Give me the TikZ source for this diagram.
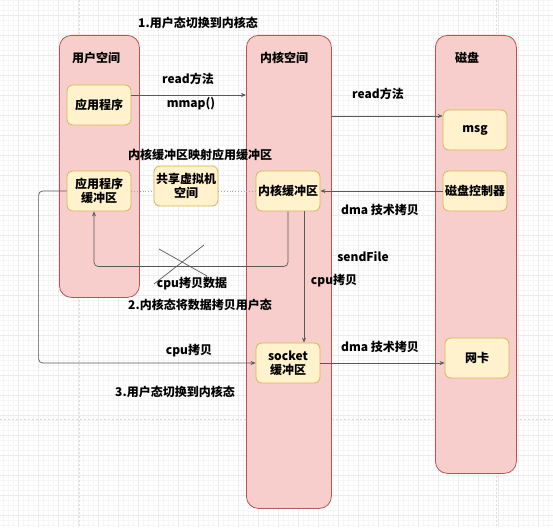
\documentclass[tikz,border=0pt]{standalone}
\usepackage{fontspec}
\setmainfont{Noto Sans CJK SC}
\usetikzlibrary{arrows.meta}
\definecolor{colfill}{HTML}{F8CECC}
\definecolor{colstroke}{HTML}{B85450}
\definecolor{boxfill}{HTML}{FFF2CC}
\definecolor{boxstroke}{HTML}{D6B656}
\definecolor{linec}{HTML}{595959}
\definecolor{minorg}{HTML}{F6F6F6}
\definecolor{majorg}{HTML}{EBEBEB}
\definecolor{pageg}{HTML}{DDDDDD}
\begin{document}
\begin{tikzpicture}[x=1pt,y=-1pt,
  col/.style={draw=colstroke, fill=colfill, rounded corners=12pt, line width=0.8pt, anchor=north west, inner sep=0pt},
  box/.style={draw=boxstroke, fill=boxfill, rounded corners=6pt, minimum width=64pt, minimum height=40pt, align=center, font=\bfseries\fontsize{12}{14}\selectfont, inner sep=1pt, line width=0.8pt},
  lbl/.style={font=\bfseries\fontsize{12}{14}\selectfont, inner sep=0pt},
  conn/.style={draw=linec, line width=0.7pt, -{Stealth[length=5pt,width=4pt]}},
  plain/.style={draw=linec, line width=0.7pt},
  dotline/.style={draw=gray!70, line width=0.8pt, dotted},
  minorgrid/.style={draw=minorg, line width=0.4pt},
  majorgrid/.style={draw=majorg, line width=0.5pt},
  pageline/.style={draw=pageg, line width=0.8pt, dash pattern=on 2pt off 2pt}
]
\useasboundingbox (0,0) rectangle (553,527);
\fill[white] (0,0) rectangle (553,527);
% grid
\foreach \x in {3,8,...,553} \draw[minorgrid] (\x,0) -- (\x,527);
\foreach \y in {0,5,...,527} \draw[minorgrid] (0,\y) -- (553,\y);
\foreach \x in {18,38,...,553} \draw[majorgrid] (\x,0) -- (\x,527);
\foreach \y in {15,35,...,527} \draw[majorgrid] (0,\y) -- (553,\y);
\draw[pageline] (79,0) -- (79,527);
\draw[pageline] (496,0) -- (496,527);
\draw[pageline] (0,419) -- (553,419);

% columns
\node[col, minimum width=80pt, minimum height=262pt] (user) at (59,35) {};
\node[col, minimum width=85pt, minimum height=473pt] (kernel) at (246,35) {};
\node[col, minimum width=81pt, minimum height=438pt] (disk) at (435,35) {};

% titles
\node[lbl] (t1) at (198,23) {1.用户态切换到内核态};
\node[lbl] (tu) at (96,58) {用户空间};
\node[lbl] (tk) at (284,58) {内核空间};
\node[lbl] (td) at (467,58) {磁盘};

% boxes
\node[box] (app) at (99,105) {应用程序};
\node[box] (ubuf) at (99,191) {应用程序\\缓冲区};
\node[box] (shared) at (186,186) {共享虚拟机\\空间};
\node[box] (kbuf) at (288,191) {内核缓冲区};
\node[box] (msg) at (475,130) {msg};
\node[box] (ctrl) at (475,191) {磁盘控制器};
\node[box] (sock) at (288,363) {socket\\缓冲区};
\node[box] (nic) at (477,358) {网卡};

% connectors
\coordinate (a1) at ([yshift=10pt]app.east);
\draw[conn] (a1) -- (a1 -| kernel.west);
\coordinate (m1) at ([yshift=14pt]msg.west);
\draw[conn] (m1 -| kernel.east) -- (m1);
\draw[conn] (ctrl) -- (kbuf);
\draw[dotline] (ubuf.east) -- (shared.west |- ubuf.east);
\draw[dotline] (shared.east |- ubuf.east) -- (kbuf.west);
\coordinate (u2) at ([xshift=-5pt]ubuf.south);
\draw[conn, rounded corners=4pt] (kbuf.south) -- ++(0,55) -| (u2);
\draw[conn] ([xshift=16pt]kbuf.south) -- ([xshift=16pt]sock.north);
\draw[conn, rounded corners=4pt] (ubuf.west) -- ++(-28,0) |- (sock.west);
\draw[conn] (sock.east) -- (sock.east -| nic.west);

% cross
\coordinate (c1) at (159,249);
\coordinate (c2) at (207,276);
\coordinate (c3) at (204,245);
\coordinate (c4) at (154,284);
\draw[plain] (c1) -- (c2);
\draw[plain] (c3) -- (c4);

% labels
\node[lbl] (l1) at (188,79) {read方法};
\node[lbl] (l2) at (191,104) {mmap()};
\node[lbl] (l3) at (378,94) {read方法};
\node[lbl] (l4) at (200,155) {内核缓冲区映射应用缓冲区};
\node[lbl] (l5) at (380,210) {dma 技术拷贝};
\node[lbl] (l6) at (363,257) {sendFile};
\node[lbl] (l7) at (334,281) {cpu拷贝};
\node[lbl] (l8) at (192,284) {cpu拷贝数据};
\node[lbl] (l9) at (200,305) {2.内核态将数据拷贝用户态};
\node[lbl] (l10) at (189,351) {cpu拷贝};
\node[lbl] (l11) at (380,347) {dma 技术拷贝};
\node[lbl] (l12) at (175,392) {3.用户态切换到内核态};
\end{tikzpicture}
\end{document}
